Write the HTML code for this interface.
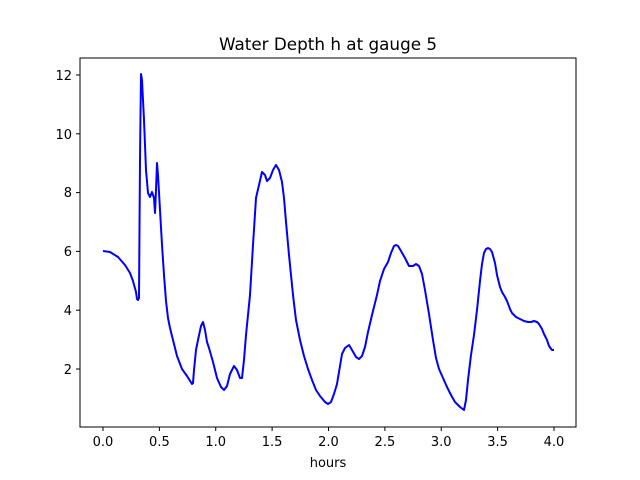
<!DOCTYPE html>
<html><head><meta charset="utf-8"><style>
html,body{margin:0;padding:0;background:#fff;}
svg{display:block;font-family:"DejaVu Sans","Liberation Sans",sans-serif;}
</style></head><body>
<svg width="640" height="480" viewBox="0 0 640 480" xmlns="http://www.w3.org/2000/svg">
<rect width="640" height="480" fill="#fff"/>
<text x="328" y="50" font-size="16.8" text-anchor="middle" fill="#000">Water Depth h at gauge 5</text>
<polyline fill="none" stroke="#0000ff" stroke-width="2" stroke-linejoin="round" points="
103,251 110,252 118,257 125,265 130,273 133,281 136,292 137,299 138,300 139,298 140,160 141,74 142,80 144,120 146,170 148,193 150,197 152,192 154,198 155,213 156,190 157,163 158,175 160,210 162,245 164,275 166,301 168,318 170,328 173,340 177,356 182,369 187,376 192,384 193,383 194,370 196,350 198,340 201,326 203,322 205,330 207,342 209,348 213,362 217,378 221,387 224,390 227,386 230,374 234,366 237,370 240,378 242,378 244,360 246,335 250,295 253,245 256,198 259,185 262,172 265,175 267,181 270,178 273,170 276,165 279,170 282,182 284,198 286,222 289,255 293,295 296,320 300,340 304,356 308,369 312,380 316,390 320,396 325,402 328,404 331,402 334,394 337,384 340,366 342,354 345,348 349,345 352,350 356,357 359,359 362,356 365,347 368,332 372,315 377,295 380,281 384,269 388,262 391,253 394,246 396,245 398,246 401,251 405,258 409,266 413,266 416,264 419,266 422,274 425,290 429,314 433,340 436,358 439,369 443,378 447,387 451,395 455,402 460,407 464,410 466,400 468,380 471,355 474,335 477,310 480,281 482,264 484,253 486,249 488,248 490,249 492,252 495,263 497,275 500,287 502,292 505,297 507,301 510,309 512,313 516,317 520,319 524,321 528,322 531,322 534,321 537,322 539,324 542,329 544,334 547,340 549,346 552,350 554,350"/>
<rect x="80" y="58" width="496" height="369" fill="none" stroke="#000" stroke-width="1"/>
<g stroke="#000" stroke-width="1">
<line x1="103" y1="427" x2="103" y2="431"/><line x1="159.4" y1="427" x2="159.4" y2="431"/><line x1="215.75" y1="427" x2="215.75" y2="431"/><line x1="272.1" y1="427" x2="272.1" y2="431"/><line x1="328.5" y1="427" x2="328.5" y2="431"/><line x1="384.9" y1="427" x2="384.9" y2="431"/><line x1="441.25" y1="427" x2="441.25" y2="431"/><line x1="497.6" y1="427" x2="497.6" y2="431"/><line x1="554" y1="427" x2="554" y2="431"/>
<line x1="76" y1="369" x2="80" y2="369"/><line x1="76" y1="310.2" x2="80" y2="310.2"/><line x1="76" y1="251.4" x2="80" y2="251.4"/><line x1="76" y1="192.6" x2="80" y2="192.6"/><line x1="76" y1="133.8" x2="80" y2="133.8"/><line x1="76" y1="75" x2="80" y2="75"/>
</g>
<g font-size="13" fill="#000" text-anchor="middle">
<text x="103" y="446">0.0</text><text x="159.4" y="446">0.5</text><text x="215.75" y="446">1.0</text><text x="272.1" y="446">1.5</text><text x="328.5" y="446">2.0</text><text x="384.9" y="446">2.5</text><text x="441.25" y="446">3.0</text><text x="497.6" y="446">3.5</text><text x="554" y="446">4.0</text>
<text x="328" y="467">hours</text>
</g>
<g font-size="13" fill="#000" text-anchor="end">
<text x="72" y="374">2</text><text x="72" y="315">4</text><text x="72" y="256">6</text><text x="72" y="197">8</text><text x="72" y="139">10</text><text x="72" y="80">12</text>
</g>
</svg>
</body></html>
